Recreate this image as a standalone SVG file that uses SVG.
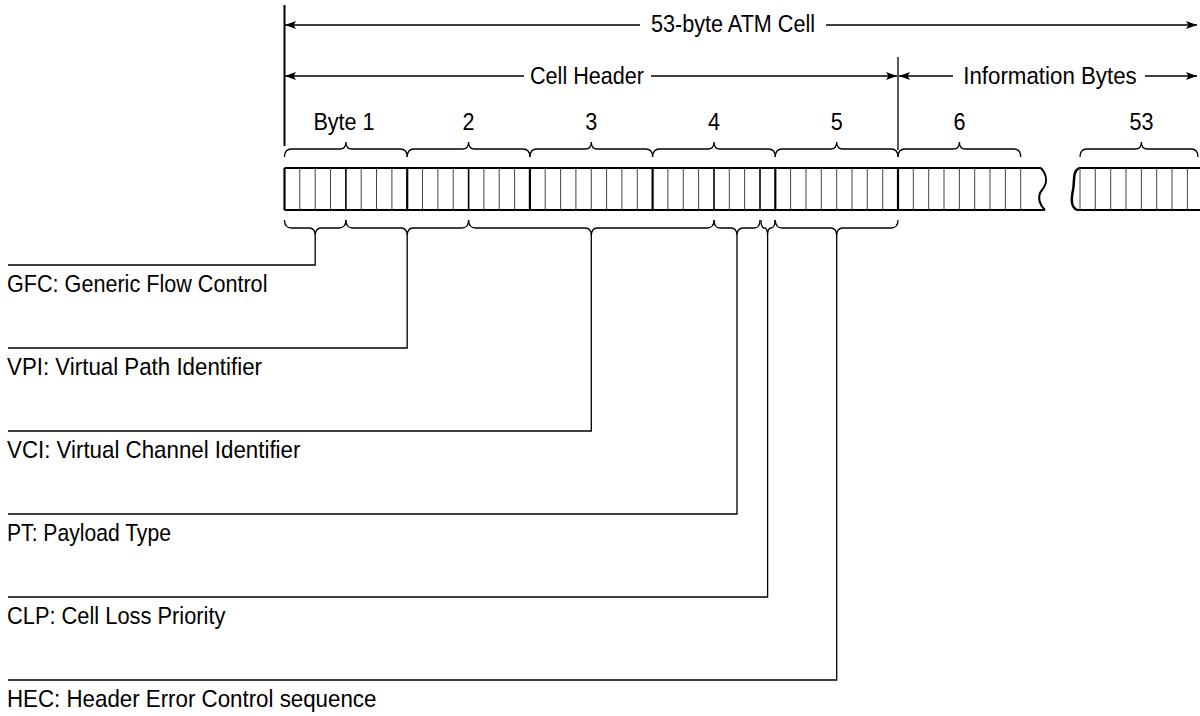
<svg xmlns="http://www.w3.org/2000/svg" width="1200" height="716" viewBox="0 0 1200 716">
<defs>
<marker id="ah" viewBox="0 0 11 8" refX="11" refY="4" markerWidth="11" markerHeight="8" markerUnits="userSpaceOnUse" orient="auto-start-reverse">
<path d="M0,0 L11,4 L0,8 L2.5,4 Z" fill="#000"/>
</marker>
<style>
.t{font-family:"Liberation Sans",Arial,sans-serif;font-size:24px;fill:#000}
.m{text-anchor:middle}
.ln{stroke:#000;stroke-width:1.3;fill:none}
.br{stroke:#000;stroke-width:1.3;fill:none}
.bit{stroke:#444;stroke-width:1}
.byte{stroke:#000;stroke-width:2.2}
.fld{stroke:#000;stroke-width:1.6}
.edge{stroke:#000;stroke-width:2;fill:none}
</style>
</defs>
<rect width="1200" height="716" fill="#fff"/>

<g id="dimensions">
<line class="edge" x1="284.5" y1="5" x2="284.5" y2="146"/>
<line class="ln" x1="898" y1="57" x2="898" y2="150"/>
<g id="atm-cell-span">
<line class="ln" x1="285" y1="25" x2="640" y2="25" marker-start="url(#ah)"/>
<line class="ln" x1="826" y1="25" x2="1197" y2="25" marker-end="url(#ah)"/>
<text class="t m" transform="translate(733,32) scale(0.9,1)">53-byte ATM Cell</text>
</g>
<g id="cell-header-span">
<line class="ln" x1="285" y1="76" x2="524" y2="76" marker-start="url(#ah)"/>
<line class="ln" x1="651" y1="76" x2="897" y2="76" marker-end="url(#ah)"/>
<text class="t m" transform="translate(587,84) scale(0.9,1)">Cell Header</text>
</g>
<g id="info-bytes-span">
<line class="ln" x1="899" y1="76" x2="953" y2="76" marker-start="url(#ah)"/>
<line class="ln" x1="1145" y1="76" x2="1197" y2="76" marker-end="url(#ah)"/>
<text class="t m" transform="translate(1050,84) scale(0.93,1)">Information Bytes</text>
</g>
</g>

<g id="byte-labels">
<text class="t m" transform="translate(344,130) scale(0.9,1)">Byte 1</text>
<text class="t m" transform="translate(468.6,130) scale(0.9,1)">2</text>
<text class="t m" transform="translate(591.3,130) scale(0.9,1)">3</text>
<text class="t m" transform="translate(714,130) scale(0.9,1)">4</text>
<text class="t m" transform="translate(836.7,130) scale(0.9,1)">5</text>
<text class="t m" transform="translate(959.4,130) scale(0.9,1)">6</text>
<text class="t m" transform="translate(1141.4,130) scale(0.9,1)">53</text>
</g>

<g id="byte-braces">
<path class="br" d="M284.5 157 Q284.5 149 291.5 149 L339.9 149 Q345.9 149 345.9 142 Q345.9 149 351.9 149 L400.2 149 Q407.2 149 407.2 157"/>
<path class="br" d="M407.2 157 Q407.2 149 414.2 149 L462.6 149 Q468.6 149 468.6 142 Q468.6 149 474.6 149 L522.9 149 Q529.9 149 529.9 157"/>
<path class="br" d="M529.9 157 Q529.9 149 536.9 149 L585.3 149 Q591.3 149 591.3 142 Q591.3 149 597.3 149 L645.6 149 Q652.6 149 652.6 157"/>
<path class="br" d="M652.6 157 Q652.6 149 659.6 149 L708 149 Q714 149 714 142 Q714 149 720 149 L768.3 149 Q775.3 149 775.3 157"/>
<path class="br" d="M775.3 157 Q775.3 149 782.3 149 L830.7 149 Q836.7 149 836.7 142 Q836.7 149 842.7 149 L891 149 Q898 149 898 157"/>
<path class="br" d="M898 157 Q898 149 905 149 L953.4 149 Q959.4 149 959.4 142 Q959.4 149 965.4 149 L1013.7 149 Q1020.7 149 1020.7 157"/>
<path class="br" d="M1080 157 Q1080 149 1087 149 L1135.4 149 Q1141.4 149 1141.4 142 Q1141.4 149 1147.4 149 L1191 149 Q1198 149 1198 157"/>
</g>

<g id="cell-strip">
<path class="edge" d="M284.5 168 L1041 168 M284.5 210 L1045 210"/>
<path class="edge" d="M1041 168 C1048 176 1047 184 1042 190 C1037 196 1039 204 1045 210"/>
<path class="edge" d="M1079 168 L1200 168 M1077 210 L1200 210"/>
<path d="M1079 168 C1072 172 1075 181 1073 190 C1071 200 1071 207 1077 210" stroke="#000" stroke-width="2.5" fill="none"/>
<line class="bit" x1="1080" y1="168" x2="1080" y2="210"/>
<g>
<line class="byte" x1="284.5" y1="168" x2="284.5" y2="210"/>
<line class="byte" x1="407.2" y1="168" x2="407.2" y2="210"/>
<line class="byte" x1="529.9" y1="168" x2="529.9" y2="210"/>
<line class="byte" x1="652.6" y1="168" x2="652.6" y2="210"/>
<line class="byte" x1="775.3" y1="168" x2="775.3" y2="210"/>
<line class="byte" x1="898" y1="168" x2="898" y2="210"/>
<line class="bit" x1="1020.7" y1="168" x2="1020.7" y2="210"/>
</g>
<g>
<line class="fld" x1="345.9" y1="168" x2="345.9" y2="210"/>
<line class="fld" x1="468.6" y1="168" x2="468.6" y2="210"/>
<line class="fld" x1="714" y1="168" x2="714" y2="210"/>
<line class="fld" x1="760" y1="168" x2="760" y2="210"/>
</g>
<path class="bit" d="M299.8 168V210M315.2 168V210M330.5 168V210M361.2 168V210M376.5 168V210M391.9 168V210
M422.5 168V210M437.9 168V210M453.2 168V210M483.9 168V210M499.2 168V210M514.6 168V210
M545.2 168V210M560.6 168V210M575.9 168V210M591.3 168V210M606.6 168V210M621.9 168V210M637.3 168V210
M667.9 168V210M683.3 168V210M698.6 168V210M729.3 168V210M744.6 168V210
M790.6 168V210M806 168V210M821.3 168V210M836.7 168V210M852 168V210M867.3 168V210M882.7 168V210
M913.3 168V210M928.7 168V210M944 168V210M959.4 168V210M974.7 168V210M990 168V210M1005.4 168V210
M1095.3 168V210M1110.7 168V210M1126 168V210M1141.4 168V210M1156.7 168V210M1172 168V210M1187.4 168V210"/>
</g>

<g id="field-braces">
<path class="br" d="M284.5 220 Q284.5 228 291.5 228 L309.2 228 Q315.2 228 315.2 236 Q315.2 228 321.2 228 L338.9 228 Q345.9 228 345.9 220"/>
<path class="br" d="M345.9 220 Q345.9 228 352.9 228 L401.2 228 Q407.2 228 407.2 236 Q407.2 228 413.2 228 L461.6 228 Q468.6 228 468.6 220"/>
<path class="br" d="M468.6 220 Q468.6 228 475.6 228 L585.3 228 Q591.3 228 591.3 236 Q591.3 228 597.3 228 L707 228 Q714 228 714 220"/>
<path class="br" d="M714 220 Q714 228 720 228 L731 228 Q737 228 737 236 Q737 228 743 228 L754 228 Q760 228 760 220"/>
<path class="br" d="M761 220 Q761 228 764.5 228 Q767.6 228 767.6 236 Q767.6 228 771 228 Q775 228 775 220"/>
<path class="br" d="M775.3 220 Q775.3 228 782.3 228 L830.7 228 Q836.7 228 836.7 236 Q836.7 228 842.7 228 L891 228 Q898 228 898 220"/>
</g>

<g id="connectors">
<path class="ln" d="M315.2 236 V265 H8"/>
<path class="ln" d="M407.2 236 V348 H8"/>
<path class="ln" d="M591.3 236 V431 H8"/>
<path class="ln" d="M737 236 V514 H8"/>
<path class="ln" d="M767.6 236 V597 H8"/>
<path class="ln" d="M836.7 236 V680 H8"/>
</g>

<g id="gfc"><text class="t" transform="translate(7,292) scale(0.9,1)">GFC: Generic Flow Control</text></g>
<g id="vpi"><text class="t" transform="translate(7,375) scale(0.93,1)">VPI: Virtual Path Identifier</text></g>
<g id="vci"><text class="t" transform="translate(7,458) scale(0.93,1)">VCI: Virtual Channel Identifier</text></g>
<g id="pt"><text class="t" transform="translate(7,541) scale(0.88,1)">PT: Payload Type</text></g>
<g id="clp"><text class="t" transform="translate(7,624) scale(0.91,1)">CLP: Cell Loss Priority</text></g>
<g id="hec"><text class="t" transform="translate(7,707) scale(0.93,1)">HEC: Header Error Control sequence</text></g>
</svg>
